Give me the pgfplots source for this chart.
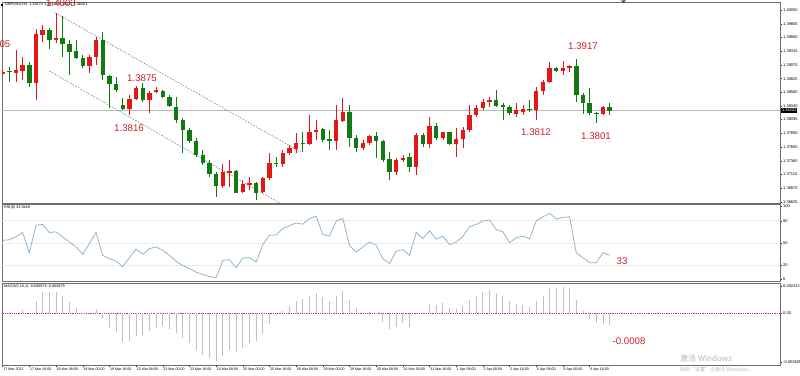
\documentclass[border=0pt]{standalone}
\usepackage{fontspec}
\setmainfont{Liberation Sans}
\newfontfamily\cjk{Noto Sans CJK SC}
\usepackage{pgfplots}
\usepackage{pgfplotstable}
\pgfplotsset{compat=1.18}
\definecolor{cRed}{RGB}{228,22,22}
\definecolor{cGreen}{RGB}{18,122,18}
\definecolor{cRSI}{RGB}{140,178,204}
\definecolor{cMacd}{RGB}{192,192,192}
\definecolor{cFrame}{RGB}{110,110,110}
\definecolor{cAnn}{RGB}{205,35,45}
\definecolor{cChan}{RGB}{135,135,135}

\pgfplotstableread{
i o h l c
0 1.38908 1.38980 1.38873 1.38950
2 1.38932 1.39336 1.38771 1.38980
3 1.38968 1.39217 1.38801 1.39069
5 1.38742 1.39705 1.38444 1.39622
6 1.39610 1.39782 1.39473 1.39693
8 1.39521 1.40002 1.39455 1.39556
13 1.39057 1.39247 1.38920 1.39217
14 1.39217 1.39574 1.39069 1.39515
19 1.38278 1.38534 1.38177 1.38462
20 1.38462 1.38694 1.38444 1.38652
22 1.38444 1.38611 1.38206 1.38575
23 1.38587 1.38682 1.38563 1.38623
33 1.36916 1.37303 1.36868 1.37154
34 1.37136 1.37374 1.36898 1.37178
36 1.36797 1.37017 1.36779 1.36940
37 1.36928 1.37077 1.36839 1.36958
39 1.36809 1.37077 1.36779 1.37059
40 1.37059 1.37493 1.37017 1.37314
42 1.37297 1.37552 1.37255 1.37493
43 1.37493 1.37641 1.37463 1.37582
44 1.37570 1.37850 1.37493 1.37671
46 1.37659 1.38177 1.37641 1.37879
47 1.37879 1.38087 1.37731 1.37909
50 1.37719 1.38355 1.37552 1.38087
51 1.38076 1.38474 1.38058 1.38224
54 1.37582 1.37731 1.37552 1.37683
55 1.37671 1.37820 1.37641 1.37802
59 1.37166 1.37404 1.37106 1.37374
60 1.37374 1.37463 1.37344 1.37415
62 1.37255 1.37850 1.37106 1.37820
64 1.37659 1.38147 1.37582 1.37986
66 1.37772 1.37879 1.37731 1.37867
68 1.37659 1.37939 1.37433 1.37743
69 1.37743 1.37969 1.37582 1.37909
70 1.37909 1.38355 1.37879 1.38177
71 1.38177 1.38355 1.38147 1.38296
72 1.38296 1.38456 1.38266 1.38415
73 1.38415 1.38504 1.38325 1.38444
77 1.38189 1.38385 1.38147 1.38266
78 1.38230 1.38355 1.38177 1.38278
80 1.38266 1.38670 1.38087 1.38611
81 1.38611 1.38801 1.38534 1.38771
82 1.38771 1.39128 1.38754 1.39009
84 1.38962 1.39146 1.38890 1.39021
85 1.39021 1.39069 1.38950 1.39051
90 1.38195 1.38337 1.38177 1.38325
}\redc

\pgfplotstableread{
i o h l c
1 1.38962 1.39039 1.38771 1.38938
4 1.39069 1.39128 1.38670 1.38742
7 1.39693 1.39723 1.39354 1.39515
9 1.39556 1.39943 1.39217 1.39437
10 1.39437 1.39515 1.38890 1.39307
11 1.39325 1.39515 1.39170 1.39200
12 1.39200 1.39247 1.39009 1.39057
15 1.39515 1.39663 1.38801 1.38890
16 1.38879 1.38890 1.38296 1.38724
17 1.38724 1.38861 1.38593 1.38623
18 1.38355 1.38474 1.38266 1.38284
21 1.38652 1.38742 1.38415 1.38444
24 1.38611 1.38623 1.38474 1.38504
25 1.38504 1.38534 1.38325 1.38337
26 1.38325 1.38504 1.38028 1.38087
27 1.38087 1.38117 1.37493 1.37909
28 1.37909 1.37939 1.37671 1.37719
29 1.37719 1.37760 1.37433 1.37463
30 1.37463 1.37552 1.37285 1.37326
31 1.37326 1.37374 1.37077 1.37124
32 1.37124 1.37166 1.36720 1.36916
35 1.37178 1.37195 1.36779 1.36791
38 1.36958 1.36987 1.36660 1.36779
41 1.37326 1.37433 1.37255 1.37303
45 1.37683 1.37879 1.37523 1.37659
48 1.37921 1.37939 1.37701 1.37731
49 1.37743 1.37909 1.37552 1.37719
52 1.38224 1.38355 1.37612 1.37772
53 1.37772 1.37820 1.37523 1.37582
56 1.37802 1.37879 1.37404 1.37719
57 1.37719 1.37731 1.37344 1.37374
58 1.37386 1.37523 1.37017 1.37166
61 1.37433 1.37493 1.37166 1.37255
63 1.37820 1.37850 1.37612 1.37659
65 1.37986 1.38028 1.37731 1.37772
67 1.37867 1.37879 1.37641 1.37659
74 1.38444 1.38623 1.38325 1.38337
75 1.38349 1.38385 1.38087 1.38325
76 1.38325 1.38355 1.38177 1.38206
79 1.38290 1.38444 1.38236 1.38266
83 1.39009 1.39039 1.38950 1.38962
86 1.39051 1.39170 1.38415 1.38534
87 1.38534 1.38563 1.38195 1.38385
88 1.38385 1.38652 1.38177 1.38206
89 1.38218 1.38230 1.38028 1.38195
91 1.38325 1.38385 1.38177 1.38254
}\greenc

\pgfplotstableread{
i r
0 53.4
1 54
2 58
3 64
4 36.5
5 74
6 75
7 64
8 64.8
9 58
10 51
11 44.3
12 34.2
13 48.9
14 64
15 32.9
16 28.3
17 25.1
18 17.4
19 29.7
20 41.5
21 34.2
22 42
23 44.3
24 39.7
25 32.9
26 24.7
27 19.2
28 14.6
29 10
30 6.8
31 4.1
32 2.3
33 26
34 27
35 16
36 29.2
37 29.7
38 23.7
39 47.5
40 60.3
41 60.7
42 69.4
43 73
44 77.1
45 75.3
46 83.1
47 86.3
48 61.2
49 58.9
50 79.5
51 83.1
52 46.1
53 37.4
54 44.3
55 51
56 46.6
57 28.3
58 21.9
59 38.4
60 40.8
61 32.9
62 64
63 55.7
64 66.2
65 54.8
66 58.9
67 47.5
68 51
69 58.9
70 71.7
71 75
72 79.5
73 80.8
74 68
75 64.8
76 50.2
77 57
78 58.9
79 55.3
80 79.9
81 85.4
82 90
83 82.2
84 84.5
85 85.4
86 36.1
87 29.7
88 22.8
89 22.8
90 36.5
91 32.9
}\rsi

\pgfplotstableread{
i m
0 0
1 0
2 0
3 0.00025
4 0.00005
5 0.00094
6 0.00161
7 0.00156
8 0.00156
9 0.00128
10 0.00086
11 0.00042
12 0.00005
13 0.00005
14 0.00032
15 -0.00037
16 -0.00106
17 -0.00141
18 -0.00210
19 -0.00205
20 -0.00165
21 -0.00161
22 -0.00131
23 -0.00106
24 -0.00091
25 -0.00116
26 -0.00148
27 -0.00185
28 -0.00222
29 -0.00272
30 -0.00309
31 -0.00333
32 -0.00353
33 -0.00316
34 -0.00272
35 -0.00284
36 -0.00254
37 -0.00217
38 -0.00205
39 -0.00153
40 -0.00079
41 -0.00012
42 0.00017
43 0.00054
44 0.00091
45 0.00106
46 0.00128
47 0.00153
48 0.00124
49 0.00094
50 0.00131
51 0.00165
52 0.00099
53 0.00037
54 0.00007
55 0.00012
56 0.00005
57 -0.00062
58 -0.00116
59 -0.00104
60 -0.00074
61 -0.00099
62 -0.00007
63 0.00005
64 0.00067
65 0.00062
66 0.00074
67 0.00042
68 0.00030
69 0.00054
70 0.00099
71 0.00131
72 0.00161
73 0.00173
74 0.00153
75 0.00131
76 0.00094
77 0.00069
78 0.00062
79 0.00049
80 0.00091
81 0.00128
82 0.00185
83 0.00185
84 0.00193
85 0.00185
86 0.00099
87 0.00020
88 -0.00044
89 -0.00074
90 -0.00082
91 -0.00086
}\macd

\pgfplotsset{
  panel/.style={scale only axis, anchor=north west, width=778pt,
    xmin=-0.1, xmax=116.54,
    axis line style={draw=cFrame, line width=0.9pt},
    xtick=\empty, ytick pos=right, yticklabel pos=right,
    scaled y ticks=false, scaled x ticks=false,
    tick align=outside, major tick length=2pt,
    tick style={black!80, line width=0.4pt},
    yticklabel style={font=\fontsize{4}{4.5}\selectfont, inner xsep=1pt, text=black},
    clip mode=individual}
}
\tikzset{
  tinyf/.style={font=\fontsize{3.8}{4.2}\selectfont},
  ann/.style={text=cAnn, inner sep=0pt, font=\fontsize{9.7}{11}\selectfont}
}

\begin{document}
\begin{tikzpicture}
\useasboundingbox (0,0) rectangle (800pt,-375pt);
\fill[white] (0,0) rectangle (800pt,-375pt);

% ---------- price panel ----------
\begin{axis}[panel, at={(2pt,-2pt)}, height=201.5pt,
  ymin=1.36598, ymax=1.40193,
  ytick={1.40050,1.39805,1.39560,1.39315,1.39070,1.38825,1.38580,1.38340,1.38095,1.37850,1.37605,1.37360,1.37115,1.36870,1.36625},
  yticklabels={1.40050,1.39805,1.39560,1.39315,1.39070,1.38825,1.38580,1.38340,1.38095,1.37850,1.37605,1.37360,1.37115,1.36870,1.36625}]
  \addplot[gray!55, line width=0.6pt, forget plot] coordinates {(-1,1.38266) (118,1.38266)};
  \addplot[cChan, line width=0.6pt, dash pattern=on 1.6pt off 1.4pt, forget plot] coordinates {(7.84,1.40002) (44.7,1.37517)};
  \addplot[cChan, line width=0.6pt, dash pattern=on 1.6pt off 1.4pt, forget plot] coordinates {(7.0,1.38962) (41.6,1.36602)};
  \addplot[draw=none, mark=none, forget plot, error bars/.cd, y dir=plus, y explicit, error mark=none,
    error bar style={draw=cRed, line width=0.7pt}]
    table[x=i, y=l, y error plus expr=\thisrow{h}-\thisrow{l}] {\redc};
  \addplot[draw=none, mark=none, forget plot, error bars/.cd, y dir=plus, y explicit, error mark=none,
    error bar style={draw=cGreen, line width=0.7pt}]
    table[x=i, y=l, y error plus expr=\thisrow{h}-\thisrow{l}] {\greenc};
  \addplot[draw=none, mark=none, forget plot, error bars/.cd, y dir=plus, y explicit, error mark=none,
    error bar style={draw=cRed, line width=4.4pt}]
    table[x=i, y=o, y error plus expr=\thisrow{c}-\thisrow{o}] {\redc};
  \addplot[draw=none, mark=none, forget plot, error bars/.cd, y dir=plus, y explicit, error mark=none,
    error bar style={draw=cGreen, line width=4.4pt}]
    table[x=i, y=c, y error plus expr=\thisrow{o}-\thisrow{c}] {\greenc};
\end{axis}

% ---------- RSI panel ----------
\begin{axis}[panel, at={(2pt,-204.5pt)}, height=77pt,
  ymin=-2.74, ymax=102.05,
  ytick={0,20,50,80,100}, yticklabels={0,20,50,80,100}]
  \addplot[gray!30, line width=0.5pt, dash pattern=on 1pt off 1pt, forget plot] coordinates {(-1,80) (118,80)};
  \addplot[gray!30, line width=0.5pt, dash pattern=on 1pt off 1pt, forget plot] coordinates {(-1,50) (118,50)};
  \addplot[gray!30, line width=0.5pt, dash pattern=on 1pt off 1pt, forget plot] coordinates {(-1,20) (118,20)};
  \addplot[cRSI, line width=0.75pt, mark=none] table[x=i, y=r] {\rsi};
\end{axis}

% ---------- MACD panel ----------
\begin{axis}[panel, at={(2pt,-283pt)}, height=82pt,
  ymin=-0.003829, ymax=0.002242,
  ytick={0.00202,0,-0.00361}, yticklabels={0.002242,0.00,-0.003829},
  xtick={0,4,...,88}, xtick pos=bottom,
  xticklabels={17 Mar 2021,17 Mar 16:00,18 Mar 08:00,19 Mar 00:00,19 Mar 16:00,22 Mar 08:00,23 Mar 00:00,23 Mar 16:00,24 Mar 08:00,25 Mar 00:00,25 Mar 16:00,26 Mar 08:00,29 Mar 00:00,29 Mar 16:00,30 Mar 08:00,31 Mar 00:00,31 Mar 16:00,1 Apr 08:00,2 Apr 00:00,2 Apr 16:00,5 Apr 08:00,6 Apr 00:00,6 Apr 16:00},
  xticklabel style={anchor=north west, font=\fontsize{3.6}{4}\selectfont, inner xsep=0.5pt, inner ysep=0.8pt, text=black}]
  \addplot[red!55!gray, line width=0.5pt, dash pattern=on 0.8pt off 1pt, forget plot] coordinates {(-1,0) (118,0)};
  \addplot[ycomb, cMacd, line width=0.9pt, mark=none] table[x=i, y=m] {\macd};
\end{axis}

% ---------- headers and labels ----------
\fill[black] (1.2pt,-3.6pt) rectangle (3.2pt,-5.6pt);
\node[tinyf, anchor=west, inner sep=0pt] at (5pt,-4.6pt) {GBPUSD,H4\ \ 1.38274 1.38334 1.38125 1.38203};
\node[tinyf, anchor=west, inner sep=0pt] at (4pt,-207.5pt) {RSI(8) 33.9448};
\node[tinyf, anchor=west, inner sep=0pt] at (4pt,-286.5pt) {MACD(5,10,1) -0.000879 -0.000879};
\fill[gray!60!black] (621pt,-0.3pt) -- (626pt,-0.3pt) -- (623.5pt,-2.8pt) -- cycle;
\node[fill=black, text=white, inner xsep=0.8pt, inner ysep=0.6pt, anchor=west, font=\fontsize{4}{4.5}\selectfont] at (781pt,-110.5pt) {1.38203};

% ---------- red annotations ----------
\node[ann, anchor=east] at (10.5pt,-44pt) {1.3905};
\node[ann] at (61pt,-3.6pt) {1.4003};
\node[ann] at (142pt,-78pt) {1.3875};
\node[ann] at (129pt,-128pt) {1.3816};
\node[ann] at (536pt,-132pt) {1.3812};
\node[ann] at (583pt,-46.5pt) {1.3917};
\node[ann] at (596pt,-136pt) {1.3801};
\node[ann] at (622pt,-261pt) {33};
\node[ann] at (629pt,-341pt) {-0.0008};

% ---------- watermark ----------
\node[anchor=west, inner sep=0pt, text=gray!55, font=\cjk\fontsize{8}{9}\selectfont] at (680pt,-358.5pt) {激活 Windows};
\node[anchor=west, inner sep=0pt, text=gray!55, font=\cjk\fontsize{5}{6}\selectfont] at (680pt,-369.5pt) {转到“设置”以激活 Windows。};
\end{tikzpicture}
\end{document}
